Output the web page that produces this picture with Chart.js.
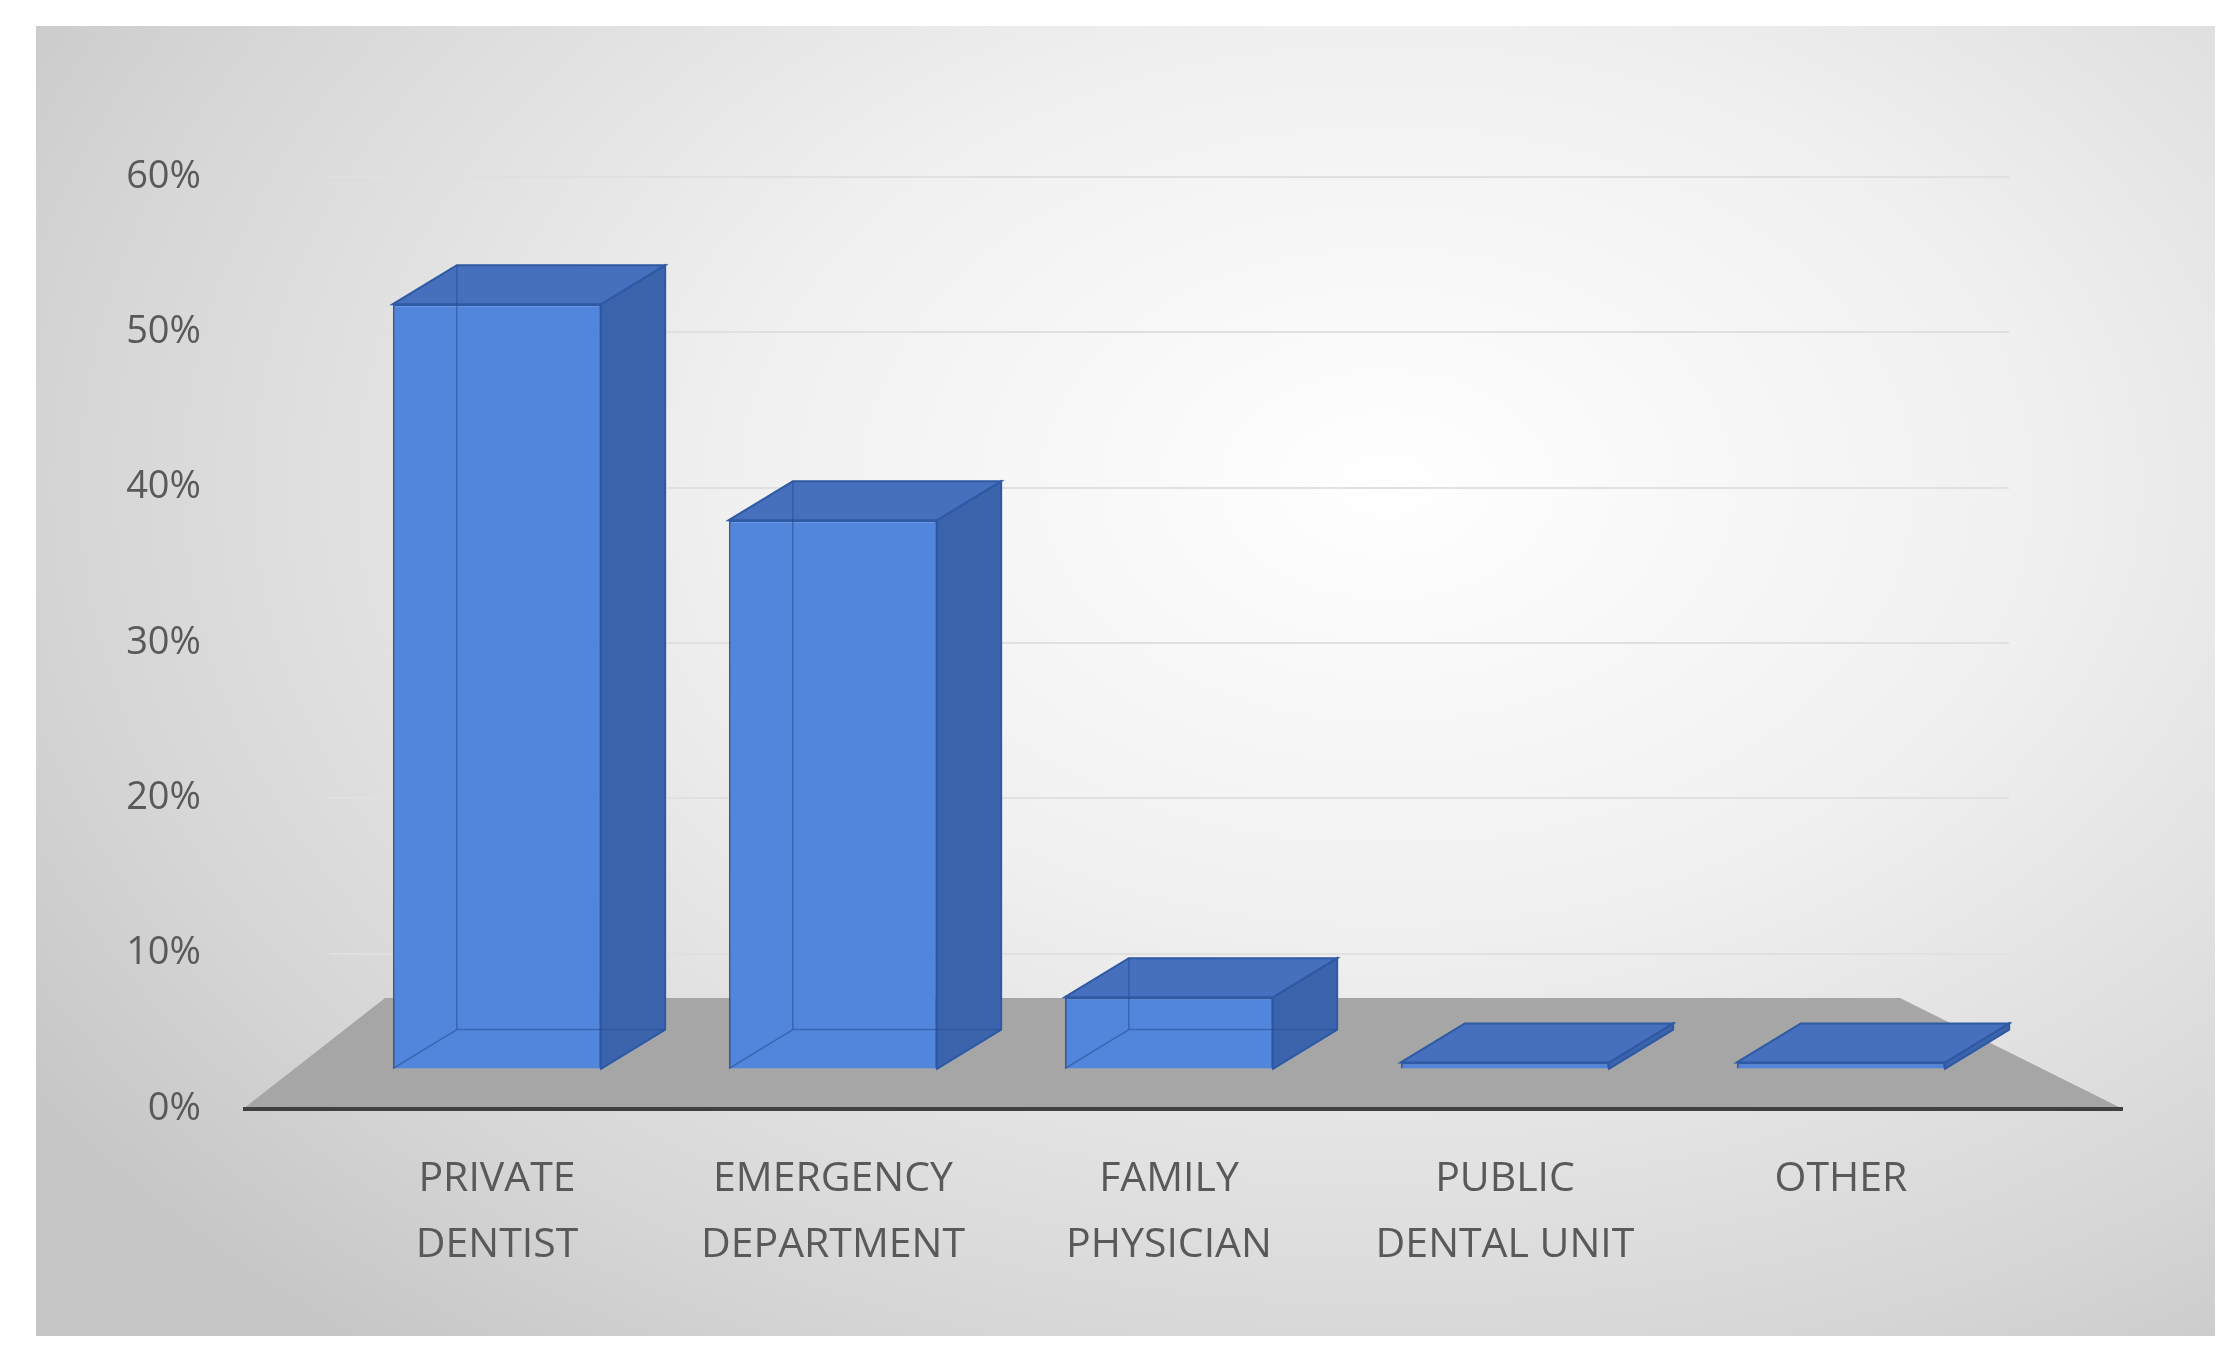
<!DOCTYPE html>
<html><head><meta charset="utf-8">
<script src="https://cdn.jsdelivr.net/npm/chart.js@4/dist/chart.umd.min.js"></script>
<style>
html,body{margin:0;background:#fff;width:2229px;height:1355px;overflow:hidden}
#panel{position:absolute;left:36px;top:26px;width:2179px;height:1310px;
background:radial-gradient(ellipse 75% 85% at 62% 35%, #ffffff 0%, #f0f0f0 40%, #d6d6d6 80%, #c6c6c6 100%);}
canvas{display:block}
</style></head><body>
<div id="panel"><canvas id="c" width="2179" height="1310"></canvas></div>
<script>
const categories = [["PRIVATE","DENTIST"],["EMERGENCY","DEPARTMENT"],["FAMILY","PHYSICIAN"],["PUBLIC","DENTAL UNIT"],["OTHER"]];
const shares = [0.518, 0.379, 0.072, 0.03, 0.03];
const yTicks = [0,0.1,0.2,0.3,0.4,0.5,0.6];

const DX=64, DY=-39;
const box3d = {
  id:'box3d',
  beforeDatasetsDraw(chart){
    const {ctx, chartArea:a} = chart;
    const y0 = chart.scales.y.getPixelForValue(0);
    ctx.save();
    ctx.fillStyle='#a6a6a6';
    ctx.beginPath();
    ctx.moveTo(a.left-86,y0);ctx.lineTo(a.right+114,y0);
    ctx.lineTo(a.right-109,y0-111);ctx.lineTo(a.left+56,y0-111);ctx.closePath();ctx.fill();
    ctx.strokeStyle='#404040';ctx.lineWidth=4;
    ctx.beginPath();ctx.moveTo(a.left-86,y0);ctx.lineTo(a.right+114,y0);ctx.stroke();
    ctx.restore();
  },
  afterDatasetsDraw(chart){
    const {ctx} = chart;
    const meta = chart.getDatasetMeta(0);
    ctx.save();
    meta.data.forEach(b=>{
      const l=b.x-b.width/2, r=b.x+b.width/2, t=Math.min(b.y,b.base), bt=Math.max(b.y,b.base);
      ctx.lineWidth=2;ctx.strokeStyle='#2e59a3';
      ctx.fillStyle='#3b64ad';
      ctx.beginPath();ctx.moveTo(r,t);ctx.lineTo(r+DX,t+DY);ctx.lineTo(r+DX,bt+DY);ctx.lineTo(r,bt);ctx.closePath();ctx.fill();ctx.stroke();
      ctx.fillStyle='#4670bd';
      ctx.beginPath();ctx.moveTo(l,t);ctx.lineTo(l+DX,t+DY);ctx.lineTo(r+DX,t+DY);ctx.lineTo(r,t);ctx.closePath();ctx.fill();ctx.stroke();
      if (bt-t>20){
        ctx.strokeStyle='rgba(40,80,150,0.6)';ctx.lineWidth=1.5;
        ctx.beginPath();ctx.moveTo(l+DX,t+DY);ctx.lineTo(l+DX,bt+DY);ctx.lineTo(r+DX,bt+DY);
        ctx.moveTo(l,bt);ctx.lineTo(l+DX,bt+DY);ctx.stroke();
      }
    });
    ctx.restore();
  }
};

new Chart(document.getElementById('c'),{
  type:'bar',
  data:{labels:categories,datasets:[{data:shares,base:0.026,backgroundColor:'#5286dc',borderColor:'#2e5ca8',borderWidth:2,categoryPercentage:1,barPercentage:0.62}]},
  plugins:[box3d],
  options:{
    responsive:false,animation:false,
    layout:{padding:{top:10,right:206,left:0,bottom:20}},
    plugins:{legend:{display:false},tooltip:{enabled:false}},
    scales:{
      y:{min:0,max:0.6,afterFit(s){s.width=293;},
        afterBuildTicks(s){s.ticks=yTicks.map(v=>({value:v}));},
        border:{display:false},
        grid:{color:'#e0e0e0',lineWidth:2,drawTicks:false},
        ticks:{padding:128,color:'#595959',font:{family:'Open Sans',size:38},callback:v=>Math.round(v*100)+'%'}},
      x:{afterFit(s){s.height=207;},border:{display:false},grid:{display:false},
        ticks:{padding:30,color:'#595959',font:{family:'Open Sans',size:41,lineHeight:1.6},maxRotation:0}}
    }
  }
});
</script></body></html>
